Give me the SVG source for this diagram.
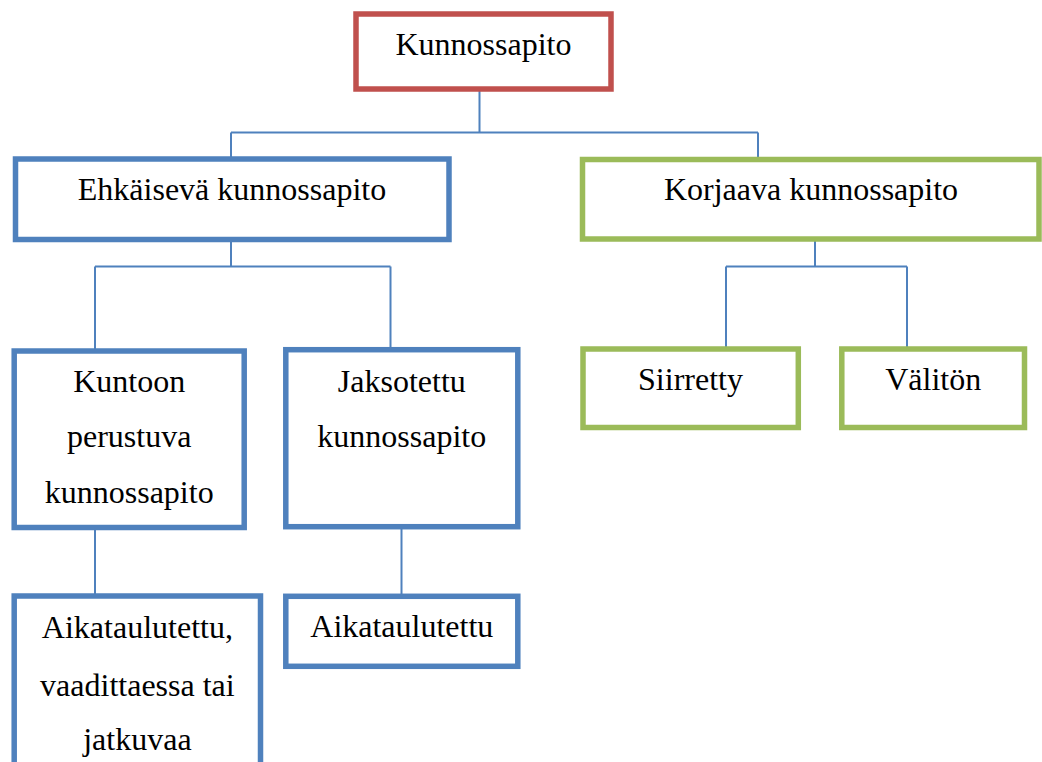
<svg xmlns="http://www.w3.org/2000/svg" width="1042" height="762" viewBox="0 0 1042 762">
<style>
.box{fill:#fff;stroke-width:5.5}
.red{stroke:#C0504D}
.blue{stroke:#4F81BD}
.green{stroke:#9BBB59}
.lbl{font-family:'Liberation Serif','Times New Roman',Times,Tinos,'DejaVu Serif','Noto Serif',serif;font-size:32px;fill:#000;text-anchor:middle}
.conn{fill:none;stroke:#4F81BD;stroke-width:2}
</style>
<rect width="1042" height="762" fill="#fff"/>
<g id="connectors">
<path class="conn" d="M479.5 89 V132.5 M231 132.5 H758 M231 132.5 V159 M758 132.5 V159.5"/>
<path class="conn" d="M231 239.5 V266.5 M95 266.5 H390.5 M95 266.5 V349 M390.5 266.5 V349.5"/>
<path class="conn" d="M815 239 V266.5 M726 266.5 H907 M726 266.5 V349 M907 266.5 V349"/>
<path class="conn" d="M95 527.5 V596"/>
<path class="conn" d="M401.5 526.5 V596.5"/>
</g>
<g font-family="Liberation Serif, serif">
<g id="n-kunnossapito">
<rect class="box red" x="356" y="14" width="255" height="75"/>
<text class="lbl" x="483.5" y="55">Kunnossapito</text>
</g>
<g id="n-ehkaiseva">
<rect class="box blue" x="15.5" y="159" width="433.5" height="80.5"/>
<text class="lbl" x="232" y="200">Ehkäisevä kunnossapito</text>
</g>
<g id="n-korjaava">
<rect class="box green" x="582.5" y="159.5" width="456.5" height="79.5"/>
<text class="lbl" x="811" y="199.5">Korjaava kunnossapito</text>
</g>
<g id="n-kuntoon">
<rect class="box blue" x="14.2" y="351" width="230" height="176.5"/>
<text class="lbl" x="129.2" y="391.7">Kuntoon</text>
<text class="lbl" x="129.2" y="447">perustuva</text>
<text class="lbl" x="129.2" y="503">kunnossapito</text>
</g>
<g id="n-jaksotettu">
<rect class="box blue" x="285.8" y="349.7" width="232" height="177"/>
<text class="lbl" x="401.8" y="391.7">Jaksotettu</text>
<text class="lbl" x="401.8" y="447">kunnossapito</text>
</g>
<g id="n-siirretty">
<rect class="box green" x="583" y="349" width="215.3" height="78.5"/>
<text class="lbl" x="690.5" y="390">Siirretty</text>
</g>
<g id="n-valiton">
<rect class="box green" x="841.8" y="349" width="182.7" height="78.5"/>
<text class="lbl" x="933.2" y="390">Välitön</text>
</g>
<g id="n-aikataulutettu-1">
<rect class="box blue" x="14.2" y="596" width="246.3" height="200"/>
<text class="lbl" x="137.4" y="638.3">Aikataulutettu,</text>
<text class="lbl" x="137.4" y="696">vaadittaessa tai</text>
<text class="lbl" x="137.4" y="750">jatkuvaa</text>
</g>
<g id="n-aikataulutettu-2">
<rect class="box blue" x="285.8" y="596.3" width="232" height="70"/>
<text class="lbl" x="401.8" y="636.7">Aikataulutettu</text>
</g>
</g>
</svg>
